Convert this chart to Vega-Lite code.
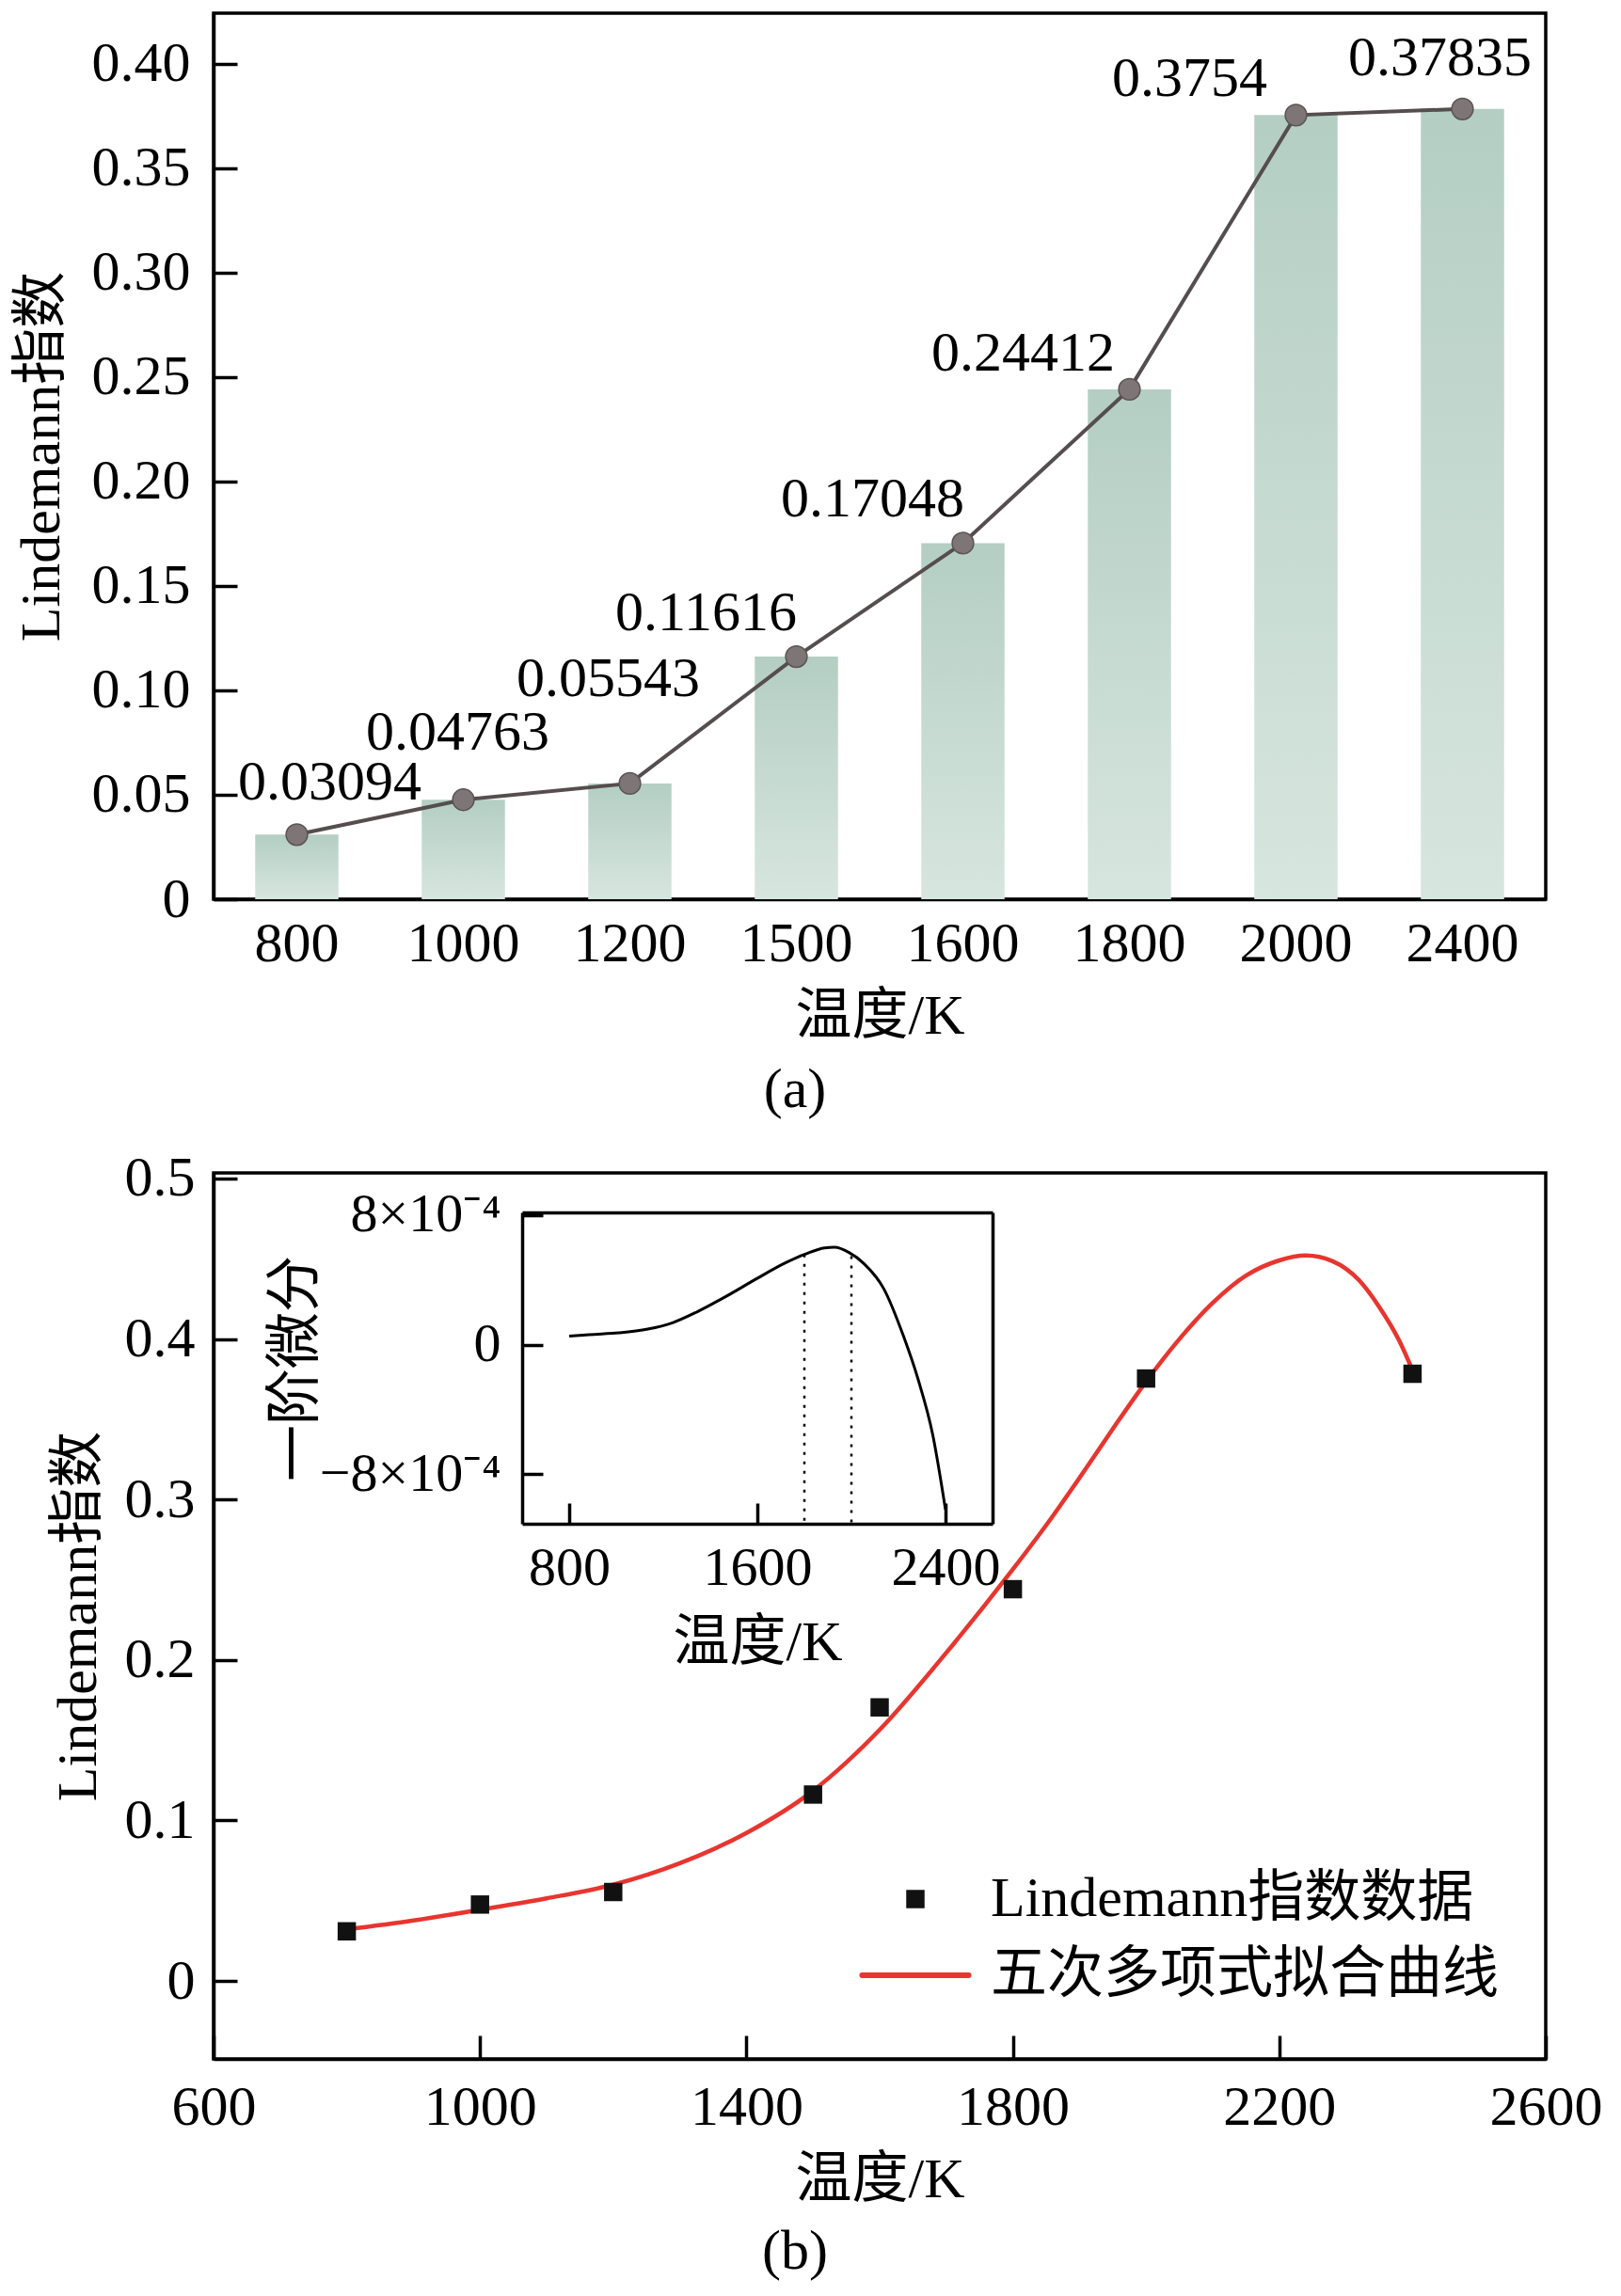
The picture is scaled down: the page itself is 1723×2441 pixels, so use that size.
{
  "$schema": "https://vega.github.io/schema/vega-lite/v6.json",
  "background": "white",
  "padding": {"left": 12, "top": 12, "right": 10, "bottom": 10},
  "spacing": 30,
  "resolve": {"scale": {"color": "independent"}, "legend": {"color": "independent"}},
  "config": {
    "font": "Liberation Serif, Noto Sans CJK SC",
    "view": {"stroke": "black", "strokeWidth": 3.5},
    "axis": {
      "labelFont": "Liberation Serif, Noto Sans CJK SC",
      "titleFont": "Liberation Serif, Noto Sans CJK SC",
      "labelFontSize": 60,
      "titleFontSize": 60,
      "labelColor": "black",
      "titleColor": "black",
      "titleFontWeight": "normal",
      "grid": false,
      "domainColor": "black",
      "domainWidth": 3.5,
      "tickColor": "black",
      "tickWidth": 3.5,
      "labelOverlap": false,
      "labelFlush": false,
      "labelLimit": 500
    },
    "legend": {"labelFont": "Liberation Serif, Noto Sans CJK SC", "labelFontSize": 60, "labelColor": "black"},
    "title": {"font": "Liberation Serif, Noto Sans CJK SC", "fontSize": 60, "fontWeight": "normal", "color": "black"},
    "text": {"font": "Liberation Serif", "fontSize": 60, "color": "black"}
  },
  "datasets": {
    "lind": [
      {"T": 800, "L": 0.03094},
      {"T": 1000, "L": 0.04763},
      {"T": 1200, "L": 0.05543},
      {"T": 1500, "L": 0.11616},
      {"T": 1600, "L": 0.17048},
      {"T": 1800, "L": 0.24412},
      {"T": 2000, "L": 0.3754},
      {"T": 2400, "L": 0.37835}
    ],
    "fit": [
      {"T": 800, "v": 0.0321},
      {"T": 900, "v": 0.0377},
      {"T": 1000, "v": 0.0444},
      {"T": 1100, "v": 0.0515},
      {"T": 1200, "v": 0.0600},
      {"T": 1300, "v": 0.0734},
      {"T": 1400, "v": 0.0922},
      {"T": 1500, "v": 0.1185},
      {"T": 1600, "v": 0.1565},
      {"T": 1700, "v": 0.2045},
      {"T": 1800, "v": 0.2565},
      {"T": 1850, "v": 0.2840},
      {"T": 1900, "v": 0.3135},
      {"T": 1950, "v": 0.3440},
      {"T": 2000, "v": 0.3735},
      {"T": 2050, "v": 0.4000},
      {"T": 2100, "v": 0.4225},
      {"T": 2150, "v": 0.4395},
      {"T": 2200, "v": 0.4490},
      {"T": 2240, "v": 0.4520},
      {"T": 2280, "v": 0.4485},
      {"T": 2320, "v": 0.4365},
      {"T": 2350, "v": 0.4200},
      {"T": 2380, "v": 0.3990},
      {"T": 2400, "v": 0.3805}
    ],
    "deriv": [
      {"T": 800, "d": 0.000052},
      {"T": 884, "d": 0.000062},
      {"T": 1009, "d": 0.000073},
      {"T": 1134, "d": 0.000096},
      {"T": 1239, "d": 0.000135},
      {"T": 1343, "d": 0.000202},
      {"T": 1468, "d": 0.000299},
      {"T": 1594, "d": 0.000405},
      {"T": 1719, "d": 0.000505},
      {"T": 1803, "d": 0.000559},
      {"T": 1886, "d": 0.000598},
      {"T": 1928, "d": 0.000602},
      {"T": 1990, "d": 0.000569},
      {"T": 2053, "d": 0.000501},
      {"T": 2137, "d": 0.000347},
      {"T": 2220, "d": 0.000058},
      {"T": 2283, "d": -0.000212},
      {"T": 2346, "d": -0.000559},
      {"T": 2400, "d": -0.001020}
    ],
    "marks": [
      {"T": 1800, "d": 0.000557},
      {"T": 2000, "d": 0.000546}
    ]
  },
  "vconcat": [
    {
      "width": 1416,
      "height": 942,
      "data": {"name": "lind"},
      "title": {"text": "(a)", "orient": "bottom", "anchor": "middle", "dx": -90, "offset": 20},
      "encoding": {
        "x": {
          "field": "T",
          "type": "ordinal",
          "scale": {"paddingInner": 0.5, "paddingOuter": 0.25},
          "axis": {"title": "温度/K", "ticks": false, "labelAngle": 0, "labelPadding": 18, "titlePadding": 18}
        },
        "y": {
          "field": "L",
          "type": "quantitative",
          "scale": {"domain": [0, 0.4242], "nice": false},
          "axis": {
            "title": "Lindemann指数",
            "values": [0, 0.05, 0.1, 0.15, 0.2, 0.25, 0.3, 0.35, 0.4],
            "labelExpr": "datum.value == 0 ? '0' : format(datum.value, '.2f')",
            "tickSize": -25,
            "labelPadding": 50,
            "titlePadding": 22
          }
        }
      },
      "layer": [
        {
          "mark": {
            "type": "bar",
            "color": {
              "gradient": "linear",
              "x1": 0, "y1": 0, "x2": 0, "y2": 1,
              "stops": [
                {"offset": 0, "color": "#b4cec3"},
                {"offset": 1, "color": "#d7e6df"}
              ]
            }
          }
        },
        {"mark": {"type": "line", "color": "#554d4e", "strokeWidth": 4}},
        {"mark": {"type": "circle", "size": 520, "color": "#7e7577", "opacity": 1, "stroke": "#5b5354", "strokeWidth": 1.5}},
        {
          "transform": [{"filter": "datum.T == 800"}],
          "mark": {"type": "text", "baseline": "middle", "dx": 35, "dy": -55},
          "encoding": {"text": {"field": "L", "type": "nominal"}}
        },
        {
          "transform": [{"filter": "datum.T == 1000"}],
          "mark": {"type": "text", "baseline": "middle", "dx": -6, "dy": -71},
          "encoding": {"text": {"field": "L", "type": "nominal"}}
        },
        {
          "transform": [{"filter": "datum.T == 1200"}],
          "mark": {"type": "text", "baseline": "middle", "dx": -23, "dy": -111},
          "encoding": {"text": {"field": "L", "type": "nominal"}}
        },
        {
          "transform": [{"filter": "datum.T == 1500 || datum.T == 1600"}],
          "mark": {"type": "text", "baseline": "middle", "dx": -96, "dy": -46},
          "encoding": {"text": {"field": "L", "type": "nominal"}}
        },
        {
          "transform": [{"filter": "datum.T == 1800 || datum.T == 2000"}],
          "mark": {"type": "text", "baseline": "middle", "dx": -113, "dy": -38},
          "encoding": {"text": {"field": "L", "type": "nominal"}}
        },
        {
          "transform": [{"filter": "datum.T == 2400"}],
          "mark": {"type": "text", "baseline": "middle", "dx": -24, "dy": -54},
          "encoding": {"text": {"field": "L", "type": "nominal"}}
        }
      ]
    },
    {
      "width": 1416,
      "height": 942,
      "title": {"text": "(b)", "orient": "bottom", "anchor": "middle", "dx": -90, "offset": 18},
      "layer": [
        {
          "layer": [
            {
              "data": {"name": "fit"},
              "mark": {"type": "line", "strokeWidth": 4.5, "interpolate": "monotone"},
              "encoding": {
                "x": {
                  "field": "T",
                  "type": "quantitative",
                  "scale": {"domain": [600, 2600], "nice": false},
                  "axis": {
                    "title": "温度/K",
                    "values": [600, 1000, 1400, 1800, 2200, 2600],
                    "format": "d",
                    "tickSize": -25,
                    "labelPadding": 47,
                    "titlePadding": 18
                  }
                },
                "y": {
                  "field": "v",
                  "type": "quantitative",
                  "scale": {"domain": [-0.0486, 0.5035], "nice": false, "zero": false},
                  "axis": {
                    "title": "Lindemann指数",
                    "values": [0, 0.1, 0.2, 0.3, 0.4, 0.5],
                    "labelExpr": "datum.value == 0 ? '0' : format(datum.value, '.1f')",
                    "tickSize": -25,
                    "labelPadding": 45,
                    "titlePadding": 18
                  }
                },
                "color": {
                  "datum": "五次多项式拟合曲线",
                  "type": "nominal",
                  "scale": {"domain": ["Lindemann指数数据", "五次多项式拟合曲线"], "range": ["#111111", "#e8352f"]},
                  "legend": {
                    "title": null,
                    "orient": "none",
                    "direction": "vertical",
                    "legendX": 716,
                    "legendY": 742,
                    "padding": 0,
                    "symbolSize": 380,
                    "labelOffset": 50,
                    "rowPadding": 21,
                    "labelLimit": 1000,
                    "encode": {
                      "symbols": {
                        "update": {
                          "shape": {"signal": "datum.value == '五次多项式拟合曲线' ? 'stroke' : 'square'"},
                          "size": {"signal": "datum.value == '五次多项式拟合曲线' ? 12800 : 380"},
                          "fill": {"signal": "datum.value == '五次多项式拟合曲线' ? 'transparent' : '#111111'"},
                          "stroke": {"signal": "datum.value == '五次多项式拟合曲线' ? '#e8352f' : '#111111'"},
                          "strokeWidth": {"signal": "datum.value == '五次多项式拟合曲线' ? 6 : 0"},
                          "strokeCap": {"value": "round"},
                          "opacity": {"value": 1}
                        }
                      }
                    }
                  }
                }
              }
            },
            {
              "data": {"name": "lind"},
              "mark": {"type": "square", "size": 380, "opacity": 1, "filled": true},
              "encoding": {
                "x": {"field": "T", "type": "quantitative"},
                "y": {"field": "L", "type": "quantitative"},
                "color": {"datum": "Lindemann指数数据", "type": "nominal"}
              }
            }
          ]
        },
        {
          "layer": [
            {
              "data": {"name": "deriv"},
              "mark": {"type": "line", "color": "black", "strokeWidth": 3, "interpolate": "monotone"},
              "encoding": {
                "x": {
                  "field": "T",
                  "type": "quantitative",
                  "scale": {"domain": [600, 2600], "range": [328, 828], "nice": false},
                  "axis": {
                    "orient": "bottom",
                    "offset": -569,
                    "title": "温度/K",
                    "values": [800, 1600, 2400],
                    "format": "d",
                    "tickSize": -22,
                    "labelPadding": 40,
                    "labelFontSize": 58,
                    "titlePadding": 21
                  }
                },
                "y": {
                  "field": "d",
                  "type": "quantitative",
                  "scale": {"domain": [-0.001107, 0.000817], "range": [373, 42], "nice": false, "zero": false},
                  "axis": {
                    "orient": "left",
                    "offset": -328,
                    "title": "一阶微分",
                    "values": [-0.0008, 0, 0.0008],
                    "labelExpr": "datum.value > 0 ? '8×10⁻⁴' : (datum.value < 0 ? '−8×10⁻⁴' : '0')",
                    "tickSize": -22,
                    "labelPadding": 45,
                    "labelFontSize": 58,
                    "titlePadding": 10
                  }
                }
              }
            },
            {
              "data": {"name": "marks"},
              "mark": {"type": "rule", "color": "black", "strokeWidth": 2.5, "strokeDash": [3, 7]},
              "encoding": {
                "x": {
                  "field": "T",
                  "type": "quantitative",
                  "axis": {"orient": "top", "offset": -42, "labels": false, "ticks": false, "title": null}
                },
                "y": {
                  "field": "d",
                  "type": "quantitative",
                  "axis": {"orient": "right", "offset": -588, "labels": false, "ticks": false, "title": null}
                },
                "y2": {"datum": -0.001107}
              }
            }
          ],
          "resolve": {"axis": {"x": "independent", "y": "independent"}}
        }
      ],
      "resolve": {"scale": {"x": "independent", "y": "independent"}}
    }
  ]
}
